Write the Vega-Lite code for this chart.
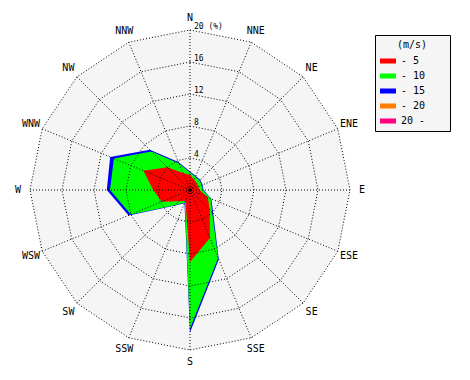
{
  "$schema": "https://vega.github.io/schema/vega-lite/v6.json",
  "width": 470,
  "height": 380,
  "autosize": {"type": "none"},
  "padding": 0,
  "background": "white",
  "config": {"view": {"stroke": null}, "font": "DejaVu Sans Mono"},
  "datasets": {
    "wind": [
      {"dir": "N", "ang": 0, "speed": "- 5", "pct": 1.9},
      {"dir": "NNE", "ang": 22.5, "speed": "- 5", "pct": 1.4},
      {"dir": "NE", "ang": 45, "speed": "- 5", "pct": 1.2},
      {"dir": "ENE", "ang": 67.5, "speed": "- 5", "pct": 1.1},
      {"dir": "E", "ang": 90, "speed": "- 5", "pct": 1.2},
      {"dir": "ESE", "ang": 112.5, "speed": "- 5", "pct": 2.4},
      {"dir": "SE", "ang": 135, "speed": "- 5", "pct": 3.5},
      {"dir": "SSE", "ang": 157.5, "speed": "- 5", "pct": 6.5},
      {"dir": "S", "ang": 180, "speed": "- 5", "pct": 9.0},
      {"dir": "SSW", "ang": 202.5, "speed": "- 5", "pct": 1.5},
      {"dir": "SW", "ang": 225, "speed": "- 5", "pct": 2.0},
      {"dir": "WSW", "ang": 247.5, "speed": "- 5", "pct": 3.8},
      {"dir": "W", "ang": 270, "speed": "- 5", "pct": 4.6},
      {"dir": "WNW", "ang": 292.5, "speed": "- 5", "pct": 6.3},
      {"dir": "NW", "ang": 315, "speed": "- 5", "pct": 4.0},
      {"dir": "NNW", "ang": 337.5, "speed": "- 5", "pct": 2.3},
      {"dir": "N", "ang": 0, "speed": "- 10", "pct": 2.2},
      {"dir": "NNE", "ang": 22.5, "speed": "- 10", "pct": 1.8},
      {"dir": "NE", "ang": 45, "speed": "- 10", "pct": 1.7},
      {"dir": "ENE", "ang": 67.5, "speed": "- 10", "pct": 1.6},
      {"dir": "E", "ang": 90, "speed": "- 10", "pct": 1.6},
      {"dir": "ESE", "ang": 112.5, "speed": "- 10", "pct": 2.8},
      {"dir": "SE", "ang": 135, "speed": "- 10", "pct": 3.9},
      {"dir": "SSE", "ang": 157.5, "speed": "- 10", "pct": 9.2},
      {"dir": "S", "ang": 180, "speed": "- 10", "pct": 17.3},
      {"dir": "SSW", "ang": 202.5, "speed": "- 10", "pct": 1.7},
      {"dir": "SW", "ang": 225, "speed": "- 10", "pct": 2.7},
      {"dir": "WSW", "ang": 247.5, "speed": "- 10", "pct": 8.0},
      {"dir": "W", "ang": 270, "speed": "- 10", "pct": 10.0},
      {"dir": "WNW", "ang": 292.5, "speed": "- 10", "pct": 10.3},
      {"dir": "NW", "ang": 315, "speed": "- 10", "pct": 6.8},
      {"dir": "NNW", "ang": 337.5, "speed": "- 10", "pct": 3.6},
      {"dir": "N", "ang": 0, "speed": "- 15", "pct": 2.3},
      {"dir": "NNE", "ang": 22.5, "speed": "- 15", "pct": 1.9},
      {"dir": "NE", "ang": 45, "speed": "- 15", "pct": 1.8},
      {"dir": "ENE", "ang": 67.5, "speed": "- 15", "pct": 1.7},
      {"dir": "E", "ang": 90, "speed": "- 15", "pct": 1.7},
      {"dir": "ESE", "ang": 112.5, "speed": "- 15", "pct": 2.9},
      {"dir": "SE", "ang": 135, "speed": "- 15", "pct": 4.1},
      {"dir": "SSE", "ang": 157.5, "speed": "- 15", "pct": 9.4},
      {"dir": "S", "ang": 180, "speed": "- 15", "pct": 17.8},
      {"dir": "SSW", "ang": 202.5, "speed": "- 15", "pct": 1.8},
      {"dir": "SW", "ang": 225, "speed": "- 15", "pct": 2.8},
      {"dir": "WSW", "ang": 247.5, "speed": "- 15", "pct": 8.3},
      {"dir": "W", "ang": 270, "speed": "- 15", "pct": 10.4},
      {"dir": "WNW", "ang": 292.5, "speed": "- 15", "pct": 10.8},
      {"dir": "NW", "ang": 315, "speed": "- 15", "pct": 7.1},
      {"dir": "NNW", "ang": 337.5, "speed": "- 15", "pct": 3.8}
    ],
    "dirs": [
      {"dir": "N", "ang": 0, "rings": [4, 8, 12, 16, 20]},
      {"dir": "NNE", "ang": 22.5, "rings": [4, 8, 12, 16, 20]},
      {"dir": "NE", "ang": 45, "rings": [4, 8, 12, 16, 20]},
      {"dir": "ENE", "ang": 67.5, "rings": [4, 8, 12, 16, 20]},
      {"dir": "E", "ang": 90, "rings": [4, 8, 12, 16, 20]},
      {"dir": "ESE", "ang": 112.5, "rings": [4, 8, 12, 16, 20]},
      {"dir": "SE", "ang": 135, "rings": [4, 8, 12, 16, 20]},
      {"dir": "SSE", "ang": 157.5, "rings": [4, 8, 12, 16, 20]},
      {"dir": "S", "ang": 180, "rings": [4, 8, 12, 16, 20]},
      {"dir": "SSW", "ang": 202.5, "rings": [4, 8, 12, 16, 20]},
      {"dir": "SW", "ang": 225, "rings": [4, 8, 12, 16, 20]},
      {"dir": "WSW", "ang": 247.5, "rings": [4, 8, 12, 16, 20]},
      {"dir": "W", "ang": 270, "rings": [4, 8, 12, 16, 20]},
      {"dir": "WNW", "ang": 292.5, "rings": [4, 8, 12, 16, 20]},
      {"dir": "NW", "ang": 315, "rings": [4, 8, 12, 16, 20]},
      {"dir": "NNW", "ang": 337.5, "rings": [4, 8, 12, 16, 20]}
    ],
    "ringlabels": [
      {"ring": 4, "lab": "4", "cx": 0},
      {"ring": 8, "lab": "8", "cx": 0},
      {"ring": 12, "lab": "12", "cx": 0},
      {"ring": 16, "lab": "16", "cx": 0},
      {"ring": 20, "lab": "20 (%)", "cx": 0}
    ]
  },
  "layer": [
    {
      "data": {"name": "dirs"},
      "transform": [
        {"calculate": "20*sin(datum.ang*PI/180)", "as": "bx"},
        {"calculate": "20*cos(datum.ang*PI/180)", "as": "by"}
      ],
      "mark": {"type": "line", "interpolate": "linear-closed", "fill": "#f5f5f5", "strokeWidth": 0, "strokeOpacity": 0},
      "encoding": {
        "x": {"field": "bx", "type": "quantitative", "scale": {"domain": [-23.75, 35], "nice": false, "zero": false}, "axis": null},
        "y": {"field": "by", "type": "quantitative", "scale": {"domain": [-23.75, 23.75], "nice": false, "zero": false}, "axis": null},
        "order": {"field": "ang", "type": "quantitative"}
      }
    },
    {
      "data": {"name": "wind"},
      "transform": [
        {"filter": "datum.speed === '- 15'"},
        {"calculate": "datum.pct*sin(datum.ang*PI/180)", "as": "px"},
        {"calculate": "datum.pct*cos(datum.ang*PI/180)", "as": "py"}
      ],
      "mark": {"type": "line", "interpolate": "linear-closed", "strokeWidth": 0, "strokeOpacity": 0},
      "encoding": {
        "x": {"field": "px", "type": "quantitative", "scale": {"domain": [-23.75, 35], "nice": false, "zero": false}, "axis": null},
        "y": {"field": "py", "type": "quantitative", "scale": {"domain": [-23.75, 23.75], "nice": false, "zero": false}, "axis": null},
        "order": {"field": "ang", "type": "quantitative"},
        "fill": {
          "field": "speed", "type": "nominal",
          "scale": {"domain": ["- 5", "- 10", "- 15", "- 20", "20 -"], "range": ["#ff0000", "#00ff00", "#0000ff", "#ff8000", "#ff0080"]},
          "legend": {
            "title": "(m/s)",
            "orient": "none",
            "legendX": 375,
            "legendY": 35,
            "padding": 5,
            "fillColor": "#f5f5f5",
            "strokeColor": "#000000",
            "titleAnchor": "middle",
            "titleFont": "DejaVu Sans Mono",
            "titleFontSize": 10,
            "titleFontWeight": "normal",
            "titleColor": "#000000",
            "titlePadding": 3,
            "labelFont": "DejaVu Sans Mono",
            "labelFontSize": 10,
            "labelColor": "#000000",
            "labelOffset": 5,
            "symbolType": "M-1,-0.3H1V0.3H-1Z M7.1,0",
            "symbolSize": 256,
            "symbolStrokeWidth": 0,
            "symbolOpacity": 1,
            "rowPadding": 2
          }
        }
      }
    },
    {
      "data": {"name": "wind"},
      "transform": [
        {"filter": "datum.speed === '- 10'"},
        {"calculate": "datum.pct*sin(datum.ang*PI/180)", "as": "px"},
        {"calculate": "datum.pct*cos(datum.ang*PI/180)", "as": "py"}
      ],
      "mark": {"type": "line", "interpolate": "linear-closed", "strokeWidth": 0, "strokeOpacity": 0},
      "encoding": {
        "x": {"field": "px", "type": "quantitative", "scale": {"domain": [-23.75, 35], "nice": false, "zero": false}, "axis": null},
        "y": {"field": "py", "type": "quantitative", "scale": {"domain": [-23.75, 23.75], "nice": false, "zero": false}, "axis": null},
        "order": {"field": "ang", "type": "quantitative"},
        "fill": {"field": "speed", "type": "nominal"}
      }
    },
    {
      "data": {"name": "wind"},
      "transform": [
        {"filter": "datum.speed === '- 5'"},
        {"calculate": "datum.pct*sin(datum.ang*PI/180)", "as": "px"},
        {"calculate": "datum.pct*cos(datum.ang*PI/180)", "as": "py"}
      ],
      "mark": {"type": "line", "interpolate": "linear-closed", "strokeWidth": 0, "strokeOpacity": 0},
      "encoding": {
        "x": {"field": "px", "type": "quantitative", "scale": {"domain": [-23.75, 35], "nice": false, "zero": false}, "axis": null},
        "y": {"field": "py", "type": "quantitative", "scale": {"domain": [-23.75, 23.75], "nice": false, "zero": false}, "axis": null},
        "order": {"field": "ang", "type": "quantitative"},
        "fill": {"field": "speed", "type": "nominal"}
      }
    },
    {
      "data": {"name": "dirs"},
      "transform": [
        {"flatten": ["rings"]},
        {"calculate": "datum.rings*sin(datum.ang*PI/180)", "as": "gx"},
        {"calculate": "datum.rings*cos(datum.ang*PI/180)", "as": "gy"}
      ],
      "mark": {"type": "line", "interpolate": "linear-closed", "stroke": "#000000", "strokeWidth": 1, "strokeDash": [1, 2]},
      "encoding": {
        "x": {"field": "gx", "type": "quantitative", "scale": {"domain": [-23.75, 35], "nice": false, "zero": false}, "axis": null},
        "y": {"field": "gy", "type": "quantitative", "scale": {"domain": [-23.75, 23.75], "nice": false, "zero": false}, "axis": null},
        "detail": {"field": "rings", "type": "nominal"},
        "order": {"field": "ang", "type": "quantitative"}
      }
    },
    {
      "data": {"name": "dirs"},
      "transform": [
        {"calculate": "20*sin(datum.ang*PI/180)", "as": "ex"},
        {"calculate": "20*cos(datum.ang*PI/180)", "as": "ey"},
        {"calculate": "0", "as": "ox"}
      ],
      "mark": {"type": "rule", "stroke": "#000000", "strokeWidth": 1, "strokeDash": [1, 2]},
      "encoding": {
        "x": {"field": "ox", "type": "quantitative", "scale": {"domain": [-23.75, 35], "nice": false, "zero": false}, "axis": null},
        "y": {"field": "ox", "type": "quantitative", "scale": {"domain": [-23.75, 23.75], "nice": false, "zero": false}, "axis": null},
        "x2": {"field": "ex"},
        "y2": {"field": "ey"}
      }
    },
    {
      "data": {"name": "ringlabels"},
      "mark": {"type": "text", "align": "left", "baseline": "middle", "dx": 4, "dy": -3, "fontSize": 8, "font": "DejaVu Sans Mono", "color": "#000000"},
      "encoding": {
        "x": {"field": "cx", "type": "quantitative", "scale": {"domain": [-23.75, 35], "nice": false, "zero": false}, "axis": null},
        "y": {"field": "ring", "type": "quantitative", "scale": {"domain": [-23.75, 23.75], "nice": false, "zero": false}, "axis": null},
        "text": {"field": "lab", "type": "nominal"}
      }
    },
    {
      "data": {"name": "dirs"},
      "transform": [
        {"calculate": "21.5*sin(datum.ang*PI/180)", "as": "lx"},
        {"calculate": "21.5*cos(datum.ang*PI/180)", "as": "ly"}
      ],
      "mark": {"type": "text", "align": "center", "baseline": "middle", "fontSize": 10, "font": "DejaVu Sans Mono", "color": "#000000"},
      "encoding": {
        "x": {"field": "lx", "type": "quantitative", "scale": {"domain": [-23.75, 35], "nice": false, "zero": false}, "axis": null},
        "y": {"field": "ly", "type": "quantitative", "scale": {"domain": [-23.75, 23.75], "nice": false, "zero": false}, "axis": null},
        "text": {"field": "dir", "type": "nominal"}
      }
    },
    {
      "data": {"values": [{"cx": 0, "cy": 0}]},
      "mark": {"type": "point", "filled": true, "color": "#000000", "size": 14, "opacity": 1},
      "encoding": {
        "x": {"field": "cx", "type": "quantitative", "scale": {"domain": [-23.75, 35], "nice": false, "zero": false}, "axis": null},
        "y": {"field": "cy", "type": "quantitative", "scale": {"domain": [-23.75, 23.75], "nice": false, "zero": false}, "axis": null}
      }
    }
  ]
}
